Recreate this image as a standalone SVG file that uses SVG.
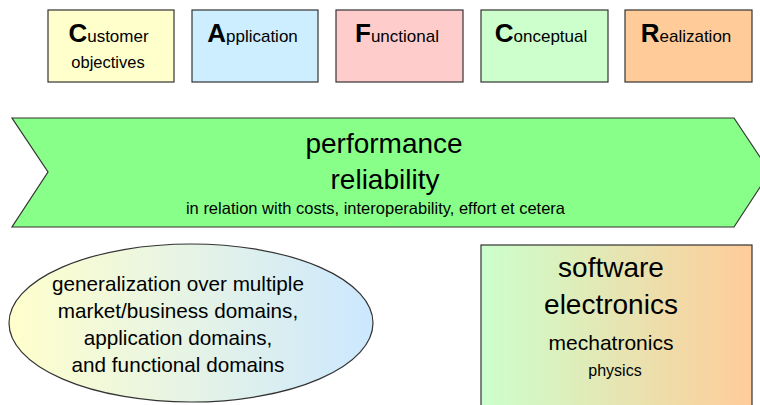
<svg xmlns="http://www.w3.org/2000/svg" width="760" height="405" viewBox="0 0 760 405">
<defs>
<linearGradient id="gEll" x1="0" y1="0" x2="1" y2="0">
<stop offset="0" stop-color="#ffffcc"/>
<stop offset="1" stop-color="#cce8ff"/>
</linearGradient>
<linearGradient id="gBox" x1="0" y1="0" x2="1" y2="0">
<stop offset="0" stop-color="#ccffcc"/>
<stop offset="1" stop-color="#ffcc99"/>
</linearGradient>
<style>
.b{stroke:#333;stroke-width:1.2}
text{font-family:"Liberation Sans",Arial,sans-serif;fill:#000}
.big{font-weight:bold;font-size:26px}
.rest{font-size:17px}
.m{text-anchor:middle}
</style>
</defs>
<rect width="760" height="405" fill="#fff"/>
<g id="customer">
<rect class="b" x="48" y="10" width="126" height="72" fill="#ffffcc"/>
<text class="m" x="108.5" y="42"><tspan class="big">C</tspan><tspan class="rest">ustomer</tspan></text>
<text class="m" x="108" y="68" font-size="16.5">objectives</text>
</g>
<g id="application">
<rect class="b" x="192" y="10" width="126" height="72" fill="#cceeff"/>
<text class="m" x="252.5" y="42"><tspan class="big">A</tspan><tspan class="rest">pplication</tspan></text>
</g>
<g id="functional">
<rect class="b" x="336" y="10" width="127" height="72" fill="#ffcccc"/>
<text class="m" x="397" y="42"><tspan class="big">F</tspan><tspan class="rest">unctional</tspan></text>
</g>
<g id="conceptual">
<rect class="b" x="481" y="10" width="127" height="72" fill="#ccffcc"/>
<text class="m" x="541" y="42"><tspan class="big">C</tspan><tspan class="rest">onceptual</tspan></text>
</g>
<g id="realization">
<rect class="b" x="625" y="10" width="127" height="72" fill="#ffcc99"/>
<text class="m" x="686" y="42"><tspan class="big">R</tspan><tspan class="rest">ealization</tspan></text>
</g>
<g id="arrow">
<polygon class="b" points="12,118 734,118 770,172 734,227 12,227 48,172" fill="#88ff88"/>
<text class="m" x="384" y="153" font-size="28">performance</text>
<text class="m" x="385" y="189" font-size="28">reliability</text>
<text class="m" x="375.5" y="214" font-size="16.5">in relation with costs, interoperability, effort et cetera</text>
</g>
<g id="generalization">
<ellipse class="b" cx="191" cy="323" rx="182" ry="79" fill="url(#gEll)"/>
<text class="m" x="178" y="291" font-size="20.7">generalization over multiple</text>
<text class="m" x="178" y="318" font-size="20.7">market/business domains,</text>
<text class="m" x="178" y="345" font-size="20.7">application domains,</text>
<text class="m" x="178" y="372" font-size="20.7">and functional domains</text>
</g>
<g id="disciplines">
<rect class="b" x="481" y="245" width="271" height="175" fill="url(#gBox)"/>
<text class="m" x="611" y="277" font-size="28">software</text>
<text class="m" x="611" y="314" font-size="28">electronics</text>
<text class="m" x="611" y="350" font-size="21">mechatronics</text>
<text class="m" x="615" y="376" font-size="16">physics</text>
</g>
<g id="connectors"/>
</svg>
